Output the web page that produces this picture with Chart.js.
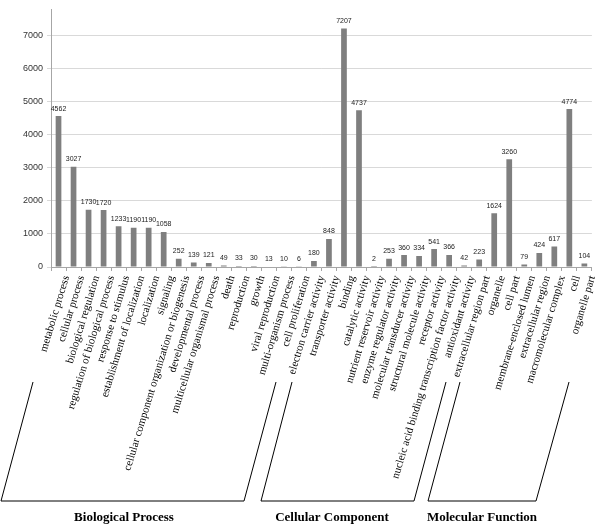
<!DOCTYPE html>
<html lang="en">
<head>
  <meta charset="UTF-8">
  <title>GO annotation</title>
  <script src="https://cdn.jsdelivr.net/npm/chart.js"></script>
  <style>
    html, body { margin: 0; padding: 0; background: #fff; }
    #wrap { width: 600px; height: 526px; }
  </style>
</head>
<body>
  <div id="wrap"><canvas id="goChart"></canvas></div>

  <script>
    const terms = [
      "metabolic process", "cellular process", "biological regulation",
      "regulation of biological process", "response to stimulus",
      "establishment of localization", "localization", "signaling",
      "cellular component organization or biogenesis", "developmental process",
      "multicellular organismal process", "death", "reproduction", "growth",
      "viral reproduction", "multi-organism process", "cell proliferation",
      "electron carrier activity", "transporter activity", "binding",
      "catalytic activity", "nutrient reservoir activity", "enzyme regulator activity",
      "molecular transducer activity", "structural molecule activity",
      "receptor activity", "nucleic acid binding transcription factor activity",
      "antioxidant activity", "extracellular region part", "organelle", "cell part",
      "membrane-enclosed lumen", "extracellular region", "macromolecular complex",
      "cell", "organelle part"
    ];
    const geneCounts = [
      4562, 3027, 1730, 1720, 1233, 1190, 1190, 1058, 252, 139, 121, 49, 33, 30,
      13, 10, 6, 180, 848, 7207, 4737, 2, 253, 360, 334, 541, 366, 42, 223,
      1624, 3260, 79, 424, 617, 4774, 104
    ];
    const yTicks = [0, 1000, 2000, 3000, 4000, 5000, 6000, 7000];
    const groupNames = ["Biological Process", "Cellular Component", "Molecular Function"];

    // bracket outlines under the axis labels (page pixels)
    const brackets = [
      [[33, 382], [1, 501], [244, 501], [276, 382]],
      [[292, 382], [261, 501], [414, 501], [446, 382]],
      [[460, 382], [428, 501], [536, 501], [569, 382]]
    ];
    const groupCenters = [124, 332, 482];

    const valueLabels = {
      id: "valueLabels",
      afterDatasetsDraw(chart) {
        const ctx = chart.ctx;
        const meta = chart.getDatasetMeta(0);
        ctx.save();
        ctx.font = "7px 'Liberation Sans', Arial, sans-serif";
        ctx.fillStyle = "#222";
        ctx.textAlign = "center";
        ctx.textBaseline = "bottom";
        meta.data.forEach((bar, i) => {
          ctx.fillText(String(geneCounts[i]), bar.x, bar.y - 4);
        });
        ctx.restore();
      }
    };

    const groupBrackets = {
      id: "groupBrackets",
      afterDraw(chart) {
        const ctx = chart.ctx;
        ctx.save();
        ctx.strokeStyle = "#000";
        ctx.lineWidth = 1;
        brackets.forEach(pts => {
          ctx.beginPath();
          ctx.moveTo(pts[0][0], pts[0][1]);
          for (let k = 1; k < pts.length; k++) ctx.lineTo(pts[k][0], pts[k][1]);
          ctx.stroke();
        });
        ctx.font = "bold 13px 'Liberation Serif', 'Times New Roman', serif";
        ctx.fillStyle = "#000";
        ctx.textAlign = "center";
        ctx.textBaseline = "middle";
        groupNames.forEach((name, i) => ctx.fillText(name, groupCenters[i], 518));
        ctx.restore();
      }
    };

    new Chart(document.getElementById("goChart").getContext("2d"), {
      type: "bar",
      data: {
        labels: terms,
        datasets: [{
          data: geneCounts,
          backgroundColor: "#7f7f7f",
          barPercentage: 0.38,
          categoryPercentage: 1.0
        }]
      },
      options: {
        responsive: true,
        maintainAspectRatio: false,
        animation: false,
        layout: { padding: { top: 0, right: 1, bottom: 0, left: 0 } },
        plugins: {
          legend: { display: false },
          tooltip: { enabled: false }
        },
        scales: {
          x: {
            grid: {
              display: true,
              drawOnChartArea: false,
              color: "#a6a6a6",
              tickLength: 4,
              offset: true
            },
            border: { color: "#a6a6a6" },
            ticks: {
              autoSkip: false,
              minRotation: 73,
              maxRotation: 73,
              padding: 3,
              labelOffset: 8,
              color: "#000",
              font: { family: "'Liberation Serif', 'Times New Roman', serif", size: 11 }
            },
            afterFit(scale) { scale.height = 259; }
          },
          y: {
            min: 0,
            max: 7787,
            grid: { color: "#d9d9d9", tickLength: 4 },
            border: { color: "#a6a6a6" },
            afterBuildTicks(scale) { scale.ticks = yTicks.map(v => ({ value: v })); },
            ticks: {
              padding: 4,
              color: "#333",
              callback: v => String(v),
              font: { family: "'Liberation Sans', Arial, sans-serif", size: 9 }
            },
            afterFit(scale) { scale.width = 51; }
          }
        }
      },
      plugins: [valueLabels, groupBrackets]
    });
  </script>
</body>
</html>
